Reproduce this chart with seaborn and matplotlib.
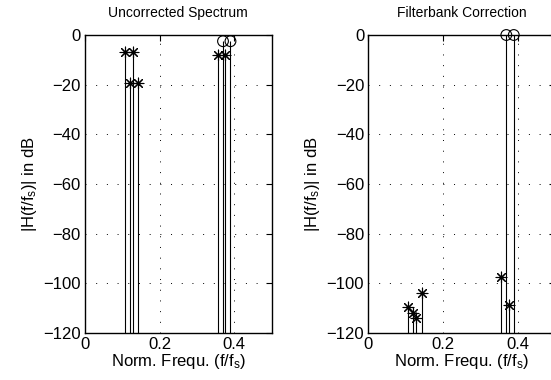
import numpy as np
import pandas as pd
import matplotlib
matplotlib.use("Agg")
import matplotlib.pyplot as plt
import seaborn as sns

# ---- data ----
freqs = [0.107, 0.121, 0.129, 0.143, 0.357, 0.370, 0.376, 0.390]
uncorrected_db = [-6.8, -19.2, -6.8, -19.2, -8.1, -2.5, -8.1, -2.5]
corrected_db = [-109.7, -111.8, -114.0, -104.0, -97.3, 0.0, -108.7, 0.0]
marker_kind = ["ast", "ast", "ast", "ast", "ast", "circ", "ast", "circ"]
titles = ["Uncorrected Spectrum", "Filterbank Correction"]
xticks = [0, 0.2, 0.4]
xticklabels = ["0", "0.2", "0.4"]
yticks = [0, -20, -40, -60, -80, -100, -120]

sns.set_theme(style="white")
plt.rcParams["font.family"] = ["Liberation Sans", "DejaVu Sans"]
plt.rcParams["mathtext.fontset"] = "custom"
plt.rcParams["mathtext.rm"] = "Liberation Sans"
plt.rcParams["mathtext.it"] = "Liberation Sans"
plt.rcParams["axes.unicode_minus"] = True

fig = plt.figure(figsize=(5.51, 3.80), dpi=100)
W, H = 551.0, 380.0
ax_w = 186.5 / W
ax_b = (H - 333) / H
ax_h = (333 - 35) / H
lefts = [85 / W, 368.3 / W]

asterisk = (8, 2, 0)

for i, (vals, title) in enumerate([(uncorrected_db, titles[0]), (corrected_db, titles[1])]):
    ax = fig.add_axes([lefts[i], ax_b, ax_w, ax_h])
    df = pd.DataFrame({"f": freqs, "db": vals, "kind": marker_kind})
    ax.vlines(df["f"], -120, df["db"], colors="black", linewidth=0.8, zorder=3)
    a = df[df["kind"] == "ast"]
    c = df[df["kind"] == "circ"]
    sns.scatterplot(data=a, x="f", y="db", marker=asterisk, s=60, color="black",
                    linewidth=0.8, ax=ax, zorder=4, clip_on=False, legend=False)
    sns.scatterplot(data=c, x="f", y="db", marker="o", s=60, facecolors="none",
                    edgecolor="black", linewidth=0.8, ax=ax, zorder=4, clip_on=False,
                    legend=False)
    ax.set_xlim(0, 0.5)
    ax.set_ylim(-120, 0)
    ax.set_xticks(xticks)
    ax.set_xticklabels(xticklabels)
    ax.set_yticks(yticks)
    ax.grid(True, color="black", linestyle=(0, (1, 10)), linewidth=0.7)
    ax.tick_params(direction="in", length=4, width=0.8, top=True, right=True,
                   labelsize=12, colors="black", pad=3)
    for sp in ax.spines.values():
        sp.set_color("black")
        sp.set_linewidth(1.0)
    ax.set_title(title, fontsize=10, pad=13, color="black")
    ax.set_xlabel(r"Norm. Frequ. (f/f$_{\rm s}$)", fontsize=12, labelpad=0, color="black")
    ax.set_ylabel(r"|H(f/f$_{\rm s}$)| in dB", fontsize=12, labelpad=3, color="black")

fig.savefig("out.png", dpi=100)
